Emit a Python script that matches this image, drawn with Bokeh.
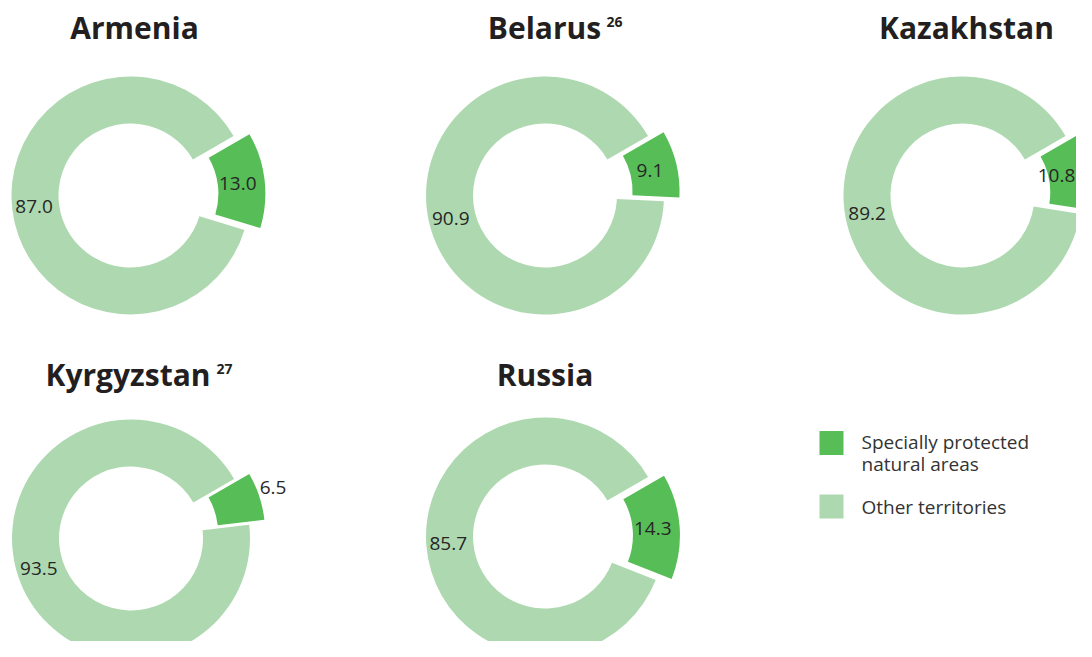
import math
from bokeh.plotting import figure
from bokeh.models import Range1d
from bokeh.core.properties import value
from bokeh.embed import file_html
from bokeh.resources import INLINE

# ---------------- data ----------------
countries = ["Armenia", "Belarus", "Kazakhstan", "Kyrgyzstan", "Russia"]
footnotes = ["", "26", "", "27", ""]
protected = [13.0, 9.1, 10.8, 6.5, 14.3]
other = [87.0, 90.9, 89.2, 93.5, 85.7]
legend_labels = ["Specially protected\nnatural areas", "Other territories"]

# ---------------- style / layout ----------------
DARK = "#57bd57"
LIGHT = "#aed9b0"
TEXT = "#262626"
PAGE_W, PAGE_H = 1092, 657
W, H = PAGE_W - 16, PAGE_H - 16

# donut centres in picture pixels (x, y from top)
centers = [(130, 195), (544.5, 195), (962, 195), (130.5, 538), (544.5, 536)]
title_x = [134, 544, 966, 127.5, 544.5]
title_mid = [27, 27, 27, 373.5, 373.5]
sup_x = [None, 606, None, 216, None]
sup_mid = [None, 21.7, None, 368, None]

R_OUT, R_IN, EXPLODE = 119, 72, 16
START_DEG = 30.0
LABEL_HALF = 20  # keep value labels inside the canvas


def Y(y):
    return H - y


p = figure(width=W, height=H,
           x_range=Range1d(0, W), y_range=Range1d(0, H),
           output_backend="svg", toolbar_location=None, min_border=0,
           x_axis_location=None, y_axis_location=None)
p.grid.visible = False
p.outline_line_color = None
p.background_fill_color = "white"
p.border_fill_color = "white"

font = value("Open Sans")

for i, name in enumerate(countries):
    cx, cy = centers[i]
    cy = Y(cy)
    total = protected[i] + other[i]
    frac = protected[i] / total
    sweep = 360.0 * frac
    g_start = START_DEG - sweep
    g_end = START_DEG
    mid_g = math.radians((g_start + g_end) / 2)
    ox = cx + EXPLODE * math.cos(mid_g)
    oy = cy + EXPLODE * math.sin(mid_g)
    # other territories
    p.annular_wedge(x=[cx], y=[cy], inner_radius=R_IN, outer_radius=R_OUT,
                    start_angle=[math.radians(g_end)],
                    end_angle=[math.radians(g_start + 360)],
                    fill_color=LIGHT, line_color=None)
    # protected (exploded)
    p.annular_wedge(x=[ox], y=[oy], inner_radius=R_IN, outer_radius=R_OUT,
                    start_angle=[math.radians(g_start)], end_angle=[math.radians(g_end)],
                    fill_color=DARK, line_color=None)
    # labels
    mid_o = math.radians((g_end + g_start + 360) / 2)
    r_lab = 97
    p.text(x=[cx + r_lab * math.cos(mid_o)], y=[cy + r_lab * math.sin(mid_o)],
           text=[f"{other[i]:.1f}"], text_align="center", text_baseline="middle",
           text_font=font, text_font_size="19px", text_color=TEXT)
    if frac < 0.08:
        r_g = R_OUT + EXPLODE + 16
        mid_lab = mid_g + math.radians(1.5)
    else:
        r_g = 108
        mid_lab = mid_g
    gx = min(cx + r_g * math.cos(mid_lab), W - LABEL_HALF)
    p.text(x=[gx], y=[cy + r_g * math.sin(mid_lab)],
           text=[f"{protected[i]:.1f}"], text_align="center", text_baseline="middle",
           text_font=font, text_font_size="19px", text_color=TEXT)
    # title
    p.text(x=[title_x[i]], y=[Y(title_mid[i])], text=[name], text_align="center",
           text_baseline="middle", text_font=font, text_font_size="30px",
           text_font_style="bold", text_color="#231f20")
    if footnotes[i]:
        p.text(x=[sup_x[i]], y=[Y(sup_mid[i])], text=[footnotes[i]],
               text_align="left", text_baseline="middle", text_font=font,
               text_font_size="14px", text_font_style="bold", text_color="#231f20")

# legend
leg_colors = [DARK, LIGHT]
leg_sq_y = [442.5, 506]
for j, lab in enumerate(legend_labels):
    p.rect(x=[831], y=[Y(leg_sq_y[j])], width=24, height=24,
           fill_color=leg_colors[j], line_color=None)
    lines = lab.split("\n")
    for k, ln in enumerate(lines):
        base = leg_sq_y[j] if len(lines) == 1 else leg_sq_y[j] - 1 + k * 21.6
        p.text(x=[861], y=[Y(base)], text=[ln], text_align="left",
               text_baseline="middle", text_font=font, text_font_size="19px",
               text_color="#333333")

open("out.html", "w").write(file_html(p, INLINE))
